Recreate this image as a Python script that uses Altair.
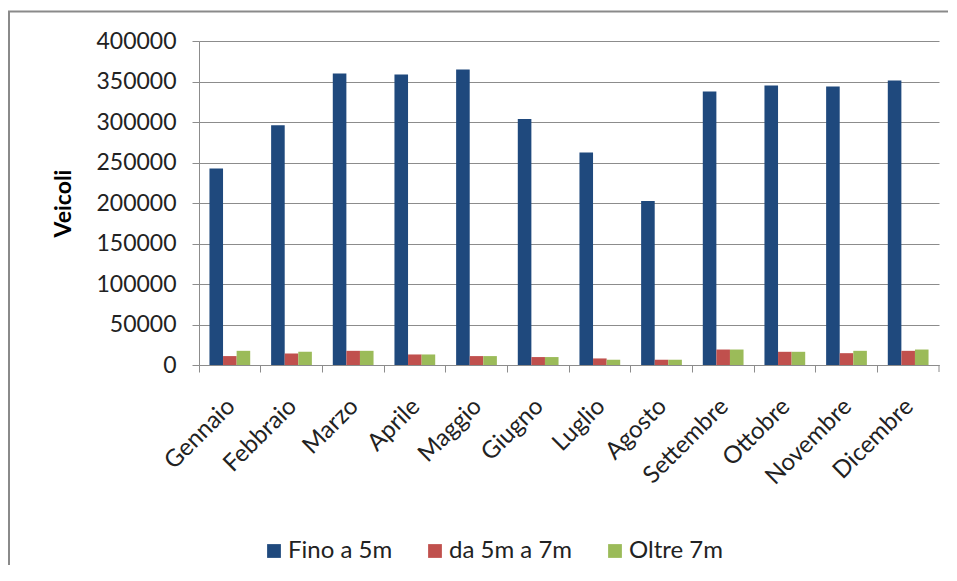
import altair as alt
import pandas as pd

mesi = ["Gennaio", "Febbraio", "Marzo", "Aprile", "Maggio", "Giugno",
        "Luglio", "Agosto", "Settembre", "Ottobre", "Novembre", "Dicembre"]
serie = ["Fino a 5m", "da 5m a 7m", "Oltre 7m"]
fino_5m = [242600, 296000, 359900, 358700, 364800, 303700,
           262300, 202500, 337700, 345000, 343700, 351200]
da_5_a_7m = [11000, 14200, 17500, 13000, 11000, 9800,
             8100, 6500, 19100, 16300, 14600, 17500]
oltre_7m = [17500, 16300, 17500, 13000, 11000, 9800,
            6500, 6500, 19100, 16300, 17500, 19100]
colori = ["#1F497D", "#C0504D", "#9BBB59"]
y_ticks = [0, 50000, 100000, 150000, 200000, 250000, 300000, 350000, 400000]

rows = []
for nome, valori in zip(serie, [fino_5m, da_5_a_7m, oltre_7m]):
    for m, v in zip(mesi, valori):
        rows.append({"Mese": m, "Serie": nome, "Veicoli": v})
df = pd.DataFrame(rows)

FONT = "Lato"

bars = alt.Chart(df).mark_bar().encode(
    x=alt.X("Mese:N", sort=mesi, title=None,
            scale=alt.Scale(paddingInner=0, paddingOuter=0),
            axis=alt.Axis(labelAngle=-45, bandPosition=0, ticks=True, tickSize=7,
                          tickColor="#8c8c8c", domainColor="#8c8c8c", grid=False,
                          labelFontSize=24, labelFont=FONT, labelColor="#222",
                          labelPadding=22, labelOffset=-7)),
    xOffset=alt.XOffset("Serie:N", sort=serie,
                        scale=alt.Scale(paddingInner=0, paddingOuter=0.77)),
    y=alt.Y("Veicoli:Q", title="Veicoli",
            scale=alt.Scale(domain=[0, 400000], nice=False),
            axis=alt.Axis(values=y_ticks, format="d", tickSize=7,
                          tickColor="#8c8c8c", domainColor="#8c8c8c",
                          gridColor="#8c8c8c", labelFontSize=23, labelFont=FONT,
                          labelColor="#222", labelPadding=16,
                          titleFontSize=23, titleFont=FONT, titleFontWeight="bold",
                          titleColor="#000", titlePadding=20)),
    color=alt.Color("Serie:N", sort=serie,
                    scale=alt.Scale(domain=serie, range=colori),
                    legend=alt.Legend(title=None, orient="none", direction="horizontal",
                                      legendX=63, legendY=498, symbolType="square",
                                      symbolSize=190, symbolStrokeWidth=0,
                                      labelFontSize=24, labelFont=FONT, labelColor="#222",
                                      labelOffset=2, columnPadding=30, padding=0)),
)

frame = alt.Chart(alt.Data(values=[{}])).mark_rect(
    filled=False, stroke="#8a8a8a", strokeWidth=2
).encode(x=alt.value(-190), x2=alt.value(900), y=alt.value(-29.5), y2=alt.value(700))

end_tick = alt.Chart(alt.Data(values=[{}])).mark_rule(color="#8c8c8c").encode(
    x=alt.value(740), y=alt.value(324), y2=alt.value(331))

chart = alt.layer(frame, bars, end_tick).properties(
    width=740, height=324,
    autosize=alt.AutoSizeParams(type="none"),
    padding={"left": 191, "top": 33, "right": 9, "bottom": 200},
).configure_view(stroke=None)

chart.save("out.html", embed_options={"renderer": "svg", "actions": False})
